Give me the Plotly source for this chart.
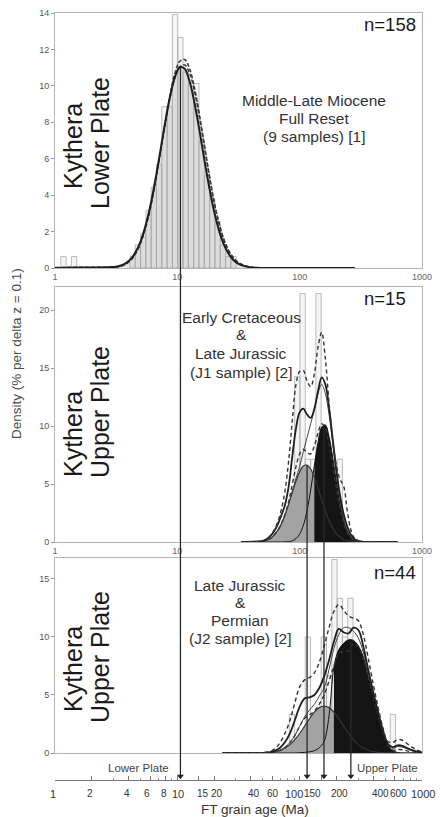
import numpy as np
import plotly.graph_objects as go

# ---------------- DATA ----------------
# Histograms: bin centres in ln(age / Ma), bin width dz = 0.1; heights in % per dz = 0.1
p1_bin_ln = [0.16, 0.36, 1.46, 1.56, 1.66, 1.76, 1.86, 1.96, 2.06, 2.16, 2.26, 2.36,
             2.46, 2.56, 2.66, 2.76, 2.86, 2.96, 3.06, 3.16, 3.26, 3.36]
p1_bin_h = [0.63, 0.63, 0.63, 1.27, 1.9, 3.16, 4.43, 5.7, 8.86, 8.86, 13.92, 12.66,
            10.76, 10.13, 10.13, 6.96, 5.06, 3.8, 2.53, 1.27, 0.63, 0.63]
p2_bin_ln = [4.56, 4.66, 4.76, 4.86, 4.96, 5.06, 5.16, 5.36]
p2_bin_h = [14.29, 21.43, 7.14, 7.14, 21.43, 7.14, 7.14, 7.14]
p3_bin_ln = [4.46, 4.76, 4.86, 4.96, 5.06, 5.16, 5.26, 5.36, 5.46, 5.56, 5.66, 5.76, 6.36]
p3_bin_h = [3.33, 10.0, 3.33, 3.33, 10.0, 6.67, 16.67, 13.33, 10.0, 13.33, 6.67, 3.33, 3.33]

# Density curves, x = log10(age / Ma)
p1_log_age = [0.0, 0.25, 0.50, 0.54, 0.58, 0.62, 0.66, 0.70, 0.74, 0.78, 0.82, 0.86, 0.90,
              0.94, 0.98, 1.02, 1.06, 1.10, 1.14, 1.18, 1.22, 1.26, 1.30, 1.34, 1.38, 1.42,
              1.46, 1.50, 1.54, 1.58, 1.62, 1.66, 1.70, 2.00, 2.45]
p1_pdf = [0.02, 0.03, 0.07, 0.14, 0.27, 0.5, 0.89, 1.47, 2.32, 3.43, 4.82, 6.38, 7.97, 9.4,
          10.48, 11.02, 10.94, 10.25, 9.07, 7.59, 5.98, 4.46, 3.13, 2.08, 1.3, 0.77, 0.43,
          0.23, 0.12, 0.06, 0.02, 0.01, 0.0, 0.0, 0.0]
p1_dash_a = [0.02, 0.03, 0.05, 0.11, 0.22, 0.43, 0.8, 1.37, 2.2, 3.3, 4.7, 6.3, 7.95, 9.5,
             10.7, 11.35, 11.45, 10.95, 9.9, 8.45, 6.8, 5.15, 3.65, 2.45, 1.55, 0.92, 0.52,
             0.28, 0.15, 0.07, 0.03, 0.01, 0.0, 0.0, 0.0]
p1_dash_b = [0.02, 0.03, 0.06, 0.13, 0.25, 0.47, 0.85, 1.42, 2.25, 3.35, 4.75, 6.3, 7.9, 9.35,
             10.45, 11.05, 11.15, 10.7, 9.7, 8.3, 6.7, 5.1, 3.65, 2.5, 1.6, 0.97, 0.56,
             0.3, 0.16, 0.08, 0.035, 0.015, 0.0, 0.0, 0.0]

p2_log_age = [1.52, 1.61, 1.70, 1.73, 1.76, 1.79, 1.82, 1.85, 1.88, 1.91, 1.94, 1.97, 2.00,
              2.03, 2.06, 2.09, 2.12, 2.15, 2.18, 2.21, 2.24, 2.27, 2.30, 2.33, 2.36, 2.39,
              2.42, 2.45, 2.48, 2.51, 2.54, 2.65, 2.80]
p2_pdf = [0.0, 0.02, 0.1, 0.25, 0.5, 0.9, 1.5, 2.3, 3.2, 4.8, 7.4, 9.8, 11.2, 11.5, 11.0,
          10.7, 11.5, 13.0, 14.2, 13.6, 11.6, 8.9, 6.2, 4.0, 2.4, 1.3, 0.6, 0.25, 0.1, 0.03,
          0.0, 0.0, 0.0]
p2_hi = [0.0, 0.03, 0.12, 0.28, 0.55, 1.0, 1.7, 2.8, 4.4, 7.0, 10.5, 13.6, 14.7, 14.8, 13.9,
         13.4, 14.5, 16.8, 18.1, 15.8, 12.0, 8.8, 6.6, 5.4, 4.8, 2.6, 1.0, 0.3, 0.1, 0.03,
         0.0, 0.0, 0.0]
p2_lo = [0.0, 0.01, 0.05, 0.15, 0.3, 0.6, 1.0, 1.6, 2.4, 3.5, 5.0, 6.5, 7.6, 8.0, 7.7, 7.6,
         8.3, 9.4, 10.2, 9.8, 8.4, 6.6, 4.6, 2.9, 1.6, 0.8, 0.35, 0.12, 0.04, 0.01, 0.0,
         0.0, 0.0]
p2_sum = [0.0, 0.02, 0.08, 0.16, 0.31, 0.58, 0.98, 1.56, 2.34, 3.3, 4.4, 5.5, 6.5, 7.8, 9.0,
          10.2, 11.4, 12.8, 13.6, 12.8, 11.0, 8.5, 5.9, 3.7, 2.0, 1.0, 0.43, 0.15, 0.05,
          0.01, 0.0, 0.0, 0.0]
p2_gray = [0.0, 0.0, 0.08, 0.16, 0.31, 0.58, 0.98, 1.56, 2.33, 3.27, 4.28, 5.25, 6.06, 6.55,
           6.63, 6.3, 5.6, 4.67, 3.65, 2.67, 1.85, 1.19, 0.72, 0.41, 0.21, 0.11, 0.05, 0.02,
           0.0, 0.0, 0.0, 0.0, 0.0]
p2_black = [0.0, 0.0, 0.0, 0.0, 0.0, 0.0, 0.0, 0.0, 0.01, 0.03, 0.1, 0.29, 0.68, 1.44, 2.7,
            4.5, 6.6, 8.6, 9.9, 10.1, 9.1, 7.3, 5.2, 3.26, 1.8, 0.89, 0.38, 0.15, 0.05, 0.01,
            0.0, 0.0, 0.0]

p3_log_age = [1.37, 1.55, 1.68, 1.72, 1.76, 1.80, 1.84, 1.88, 1.92, 1.96, 2.00, 2.04, 2.08,
              2.12, 2.16, 2.20, 2.24, 2.28, 2.32, 2.36, 2.40, 2.44, 2.48, 2.52, 2.56, 2.60,
              2.64, 2.68, 2.72, 2.76, 2.80, 2.84, 2.88, 2.92, 2.96, 3.00]
p3_pdf = [0.0, 0.0, 0.0, 0.02, 0.08, 0.2, 0.45, 0.95, 1.7, 2.8, 4.0, 4.7, 4.8, 5.0, 5.6, 6.6,
          8.0, 9.6, 10.7, 10.4, 10.3, 10.8, 10.6, 9.2, 7.2, 5.3, 3.6, 2.0, 0.8, 0.5, 0.66,
          0.62, 0.42, 0.24, 0.12, 0.05]
p3_hi = [0.0, 0.0, 0.02, 0.06, 0.15, 0.4, 0.9, 1.7, 2.8, 4.3, 5.7, 6.3, 6.5, 6.9, 7.8, 9.2,
         10.8, 12.2, 12.8, 12.3, 11.8, 11.6, 11.4, 10.2, 8.2, 6.0, 4.0, 2.2, 1.0, 0.9, 1.15,
         1.1, 0.8, 0.5, 0.25, 0.1]
p3_lo = [0.0, 0.0, 0.0, 0.01, 0.03, 0.08, 0.2, 0.45, 0.9, 1.5, 2.3, 3.0, 3.3, 3.6, 4.2, 5.0,
         6.2, 7.5, 8.6, 8.7, 8.8, 9.4, 9.2, 8.1, 6.6, 4.9, 3.3, 1.8, 0.7, 0.25, 0.3, 0.28,
         0.18, 0.1, 0.05, 0.02]
p3_sum = [0.0, 0.0, 0.01, 0.03, 0.06, 0.13, 0.26, 0.5, 0.9, 1.5, 2.3, 3.1, 3.7, 4.2, 4.9,
          5.6, 7.2, 9.0, 10.2, 10.8, 10.8, 10.5, 9.9, 8.7, 7.0, 5.2, 3.5, 1.9, 0.8, 0.4,
          0.55, 0.5, 0.35, 0.2, 0.1, 0.04]
p3_gray = [0.0, 0.0, 0.01, 0.03, 0.06, 0.12, 0.24, 0.43, 0.72, 1.15, 1.68, 2.31, 2.95, 3.52,
           3.91, 4.05, 3.91, 3.52, 2.95, 2.31, 1.68, 1.15, 0.72, 0.43, 0.24, 0.12, 0.06,
           0.03, 0.01, 0.0, 0.0, 0.0, 0.0, 0.0, 0.0, 0.0]
p3_black = [0.0, 0.0, 0.0, 0.0, 0.0, 0.0, 0.0, 0.0, 0.0, 0.0, 0.02, 0.05, 0.1, 0.2, 0.45,
            1.0, 3.2, 7.4, 8.9, 9.45, 9.75, 9.7, 9.2, 8.3, 6.6, 5.0, 3.4, 1.9, 0.7, 0.2,
            0.05, 0.0, 0.0, 0.0, 0.0, 0.0]

# peak ages (Ma) marked by arrows, panel they start from, and start height
peak_ages = [10.6, 115, 158, 262]
peak_panels = [1, 2, 2, 3]
peak_heights = [11.0, 6.6, 10.1, 9.7]

n_labels = ["n=158", "n=15", "n=44"]
bottom_ticks = [1, 2, 4, 6, 8, 10, 15, 20, 40, 60, 100, 150, 200, 400, 600, 1000]
minor_ticks = [1, 2, 3, 4, 5, 6, 7, 8, 9, 10, 20, 30, 40, 50, 60, 70, 80, 90,
               100, 200, 300, 400, 500, 600, 700, 800, 900, 1000]

# ---------------- FIGURE ----------------
FONT = "Liberation Sans, Arial, sans-serif"
W, H = 440, 817
ML, MR, MT, MB = 55, 18, 13, 37
PW, PH = W - ML - MR, H - MT - MB
doms = {1: (0.6675, 1.0, 14.0), 2: (0.3103, 0.6428, 22.0), 3: (0.0352, 0.2894, 16.8)}
# horizontal nudges (px) of the bottom tick labels, as laid out in the original figure
label_nudge = [-2, -2, -2, -3, -1, 1, 4, 3, 3, 0, -6, -9, 3, 7, 4, 1]


def px2paper(px, py):
    return (px - ML) / PW, (H - MB - py) / PH


def ypaper(panel, v):
    d0, d1, ymax = doms[panel]
    return d0 + v / ymax * (d1 - d0)


def bar_polys(ln_c, hts, dz=0.1):
    xs, ys = [], []
    for c, h in zip(ln_c, hts):
        lo, hi = float(np.exp(c - dz / 2)), float(np.exp(c + dz / 2))
        xs += [lo, lo, hi, hi, lo, None]
        ys += [0, h, h, 0, 0, None]
    return xs, ys


fig = go.Figure()
panels = [
    dict(ax=('x', 'y'), bins=(p1_bin_ln, p1_bin_h)),
    dict(ax=('x2', 'y2'), bins=(p2_bin_ln, p2_bin_h)),
    dict(ax=('x3', 'y3'), bins=(p3_bin_ln, p3_bin_h)),
]

# histograms
for p in panels:
    bx, by = bar_polys(*p['bins'])
    fig.add_trace(go.Scatter(x=bx, y=by, xaxis=p['ax'][0], yaxis=p['ax'][1], mode='lines',
                             fill='toself', fillcolor='#f5f5f5',
                             line=dict(color='#ababab', width=0.8), hoverinfo='skip'))

SPL = dict(shape='spline', smoothing=1.0)


def curve(xa, ya, lx, y, color='#1e1e1e', width=1.8, dash='solid', fill=None, fillcolor=None):
    fig.add_trace(go.Scatter(x=10 ** np.array(lx), y=y, xaxis=xa, yaxis=ya, mode='lines',
                             line=dict(color=color, width=width, dash=dash, **SPL),
                             fill=fill, fillcolor=fillcolor, hoverinfo='skip'))


# panel 1: single component, light fill
curve('x', 'y', p1_log_age, p1_pdf, width=0, fill='tozeroy', fillcolor='rgba(150,150,150,0.26)')
curve('x', 'y', p1_log_age, p1_dash_b, color='#3a3a3a', width=1.5, dash='4px,2px')
curve('x', 'y', p1_log_age, p1_dash_a, color='#3a3a3a', width=1.5, dash='4px,2px')
curve('x', 'y', p1_log_age, p1_pdf, color='#1e1e1e', width=2.0)


def components(xa, ya, lx, gray, black):
    curve(xa, ya, lx, gray, width=0, fill='tozeroy', fillcolor='#a3a3a3')
    g, b = np.array(gray), np.array(black)
    j = int(np.where(b > g)[0][0])
    curve(xa, ya, lx[j:], b[j:], width=0, fill='tozeroy', fillcolor='#141414')
    curve(xa, ya, lx, black, color='#111', width=1.0)
    curve(xa, ya, lx, gray, color='#333', width=1.2)


for (xa, ya), lx, gray, black, lo, sm, pdf, hi in [
        (('x2', 'y2'), p2_log_age, p2_gray, p2_black, p2_lo, p2_sum, p2_pdf, p2_hi),
        (('x3', 'y3'), p3_log_age, p3_gray, p3_black, p3_lo, p3_sum, p3_pdf, p3_hi)]:
    components(xa, ya, lx, gray, black)
    curve(xa, ya, lx, lo, color='#333', width=1.4, dash='4px,3px')
    curve(xa, ya, lx, sm, color='#444', width=1.0)
    curve(xa, ya, lx, pdf, color='#1e1e1e', width=1.8)
    curve(xa, ya, lx, hi, color='#333', width=1.4, dash='4px,3px')

# arrow heads on the bottom axis
fig.add_trace(go.Scatter(x=peak_ages, y=[0.25] * len(peak_ages), xaxis='x4', yaxis='y4',
                         mode='markers', cliponaxis=False, hoverinfo='skip',
                         marker=dict(symbol='triangle-down', size=6, color='#222')))

shapes = []
for age, pan, hgt in zip(peak_ages, peak_panels, peak_heights):
    shapes.append(dict(type='line', xref='x4', yref='paper', x0=age, x1=age,
                       y0=ypaper(pan, hgt), y1=0.006, layer='above',
                       line=dict(color='#2a2a2a', width=1.3)))

annotations = []


def text(px, py, s, size, color='#2a2a2a', angle=0, xanchor='center'):
    xp, yp = px2paper(px, py)
    annotations.append(dict(x=xp, y=yp, xref='paper', yref='paper', text=s, showarrow=False,
                            textangle=angle, xanchor=xanchor, yanchor='middle',
                            font=dict(family=FONT, size=size, color=color)))


# panel labels (rotated)
text(73, 146, "Kythera", 25, '#1a1a1a', -90)
text(100, 143, "Lower Plate", 25, '#1a1a1a', -90)
text(73, 434, "Kythera", 25, '#1a1a1a', -90)
text(100, 412, "Upper Plate", 25, '#1a1a1a', -90)
text(73, 669, "Kythera", 25, '#1a1a1a', -90)
text(100, 657, "Upper Plate", 25, '#1a1a1a', -90)

# descriptions
for py, s in zip([100, 118.3, 136.7], ["Middle-Late Miocene", "Full Reset", "(9 samples) [1]"]):
    text(314, py, s, 15.5, '#333')
for py, s in zip([317, 335, 353.5, 372], ["Early Cretaceous", "&", "Late Jurassic", "(J1 sample) [2]"]):
    text(241, py, s, 15.5, '#333')
for py, s in zip([585, 602.7, 620, 638.3], ["Late Jurassic", "&", "Permian", "(J2 sample) [2]"]):
    text(240, py, s, 15.5, '#333')

# n labels
text(418, 25, n_labels[0], 18.5, '#1a1a1a', xanchor='right')
text(408, 298, n_labels[1], 18.5, '#1a1a1a', xanchor='right')
text(418, 572, n_labels[2], 18.5, '#1a1a1a', xanchor='right')

text(138, 768, "Lower Plate", 11.5, '#444')
text(387, 768, "Upper Plate", 11.5, '#444')
text(17, 354, "Density (% per delta z = 0.1)", 13.5, '#4a4a4a', -90)
text(255, 809, "FT grain age (Ma)", 13.5, '#333')

# bottom-axis tick labels (placed at the tick values on the bottom axis)
_, ylab = px2paper(0, 793.5)
for t, dx in zip(bottom_ticks, label_nudge):
    decade = t in (1, 10, 100, 1000)
    annotations.append(dict(x=float(np.log10(t)), xref='x4', y=ylab,
                            yref='paper', text=str(t), showarrow=False, xshift=dx,
                            xanchor='center', yanchor='middle',
                            font=dict(family=FONT, size=11 if decade else 10, color='#333')))

frame = dict(showline=True, mirror=True, linecolor='#b4b4b4', linewidth=1,
             showgrid=False, zeroline=False, automargin=False)
xbase = dict(type='log', range=[0, 3], domain=[0, 1], **frame)
dec = dict(tickvals=[1, 10, 100, 1000], ticktext=['1', '10', '100', '1000'], ticks='',
           tickangle=0, tickfont=dict(family=FONT, size=9, color='#666'))
yfont = dict(family=FONT, size=9, color='#555')


def yax(i, ticks):
    d0, d1, ymax = doms[i]
    return dict(domain=[d0, d1], range=[0, ymax], tickvals=ticks, ticks='outside', ticklen=3,
                tickcolor='#999', tickfont=yfont, **frame)


fig.update_layout(
    width=W, height=H, margin=dict(l=ML, r=MR, t=MT, b=MB, autoexpand=False),
    paper_bgcolor='white', plot_bgcolor='white', showlegend=False,
    font=dict(family=FONT),
    xaxis=dict(anchor='y', **xbase, **dec),
    xaxis2=dict(anchor='y2', **xbase, **dec),
    xaxis3=dict(anchor='y3', showticklabels=False, ticks='', **xbase),
    xaxis4=dict(anchor='y4', type='log', range=[0, 3], domain=[0, 1], showgrid=False,
                zeroline=False, showline=True, linecolor='#777', linewidth=1, automargin=False,
                tickvals=bottom_ticks, showticklabels=False,
                ticks='inside', ticklen=4, tickcolor='#777',
                minor=dict(tickvals=minor_ticks, ticks='inside', ticklen=2.5, tickcolor='#999')),
    yaxis=yax(1, [0, 2, 4, 6, 8, 10, 12, 14]),
    yaxis2=yax(2, [0, 5, 10, 15, 20]),
    yaxis3=yax(3, [0, 5, 10, 15]),
    yaxis4=dict(domain=[0, 0.02], range=[0, 1], visible=False),
    shapes=shapes, annotations=annotations,
)

fig.write_html("out.html", config={'displayModeBar': False},
               post_script="document.body.style.margin='0';document.body.style.padding='0';")
